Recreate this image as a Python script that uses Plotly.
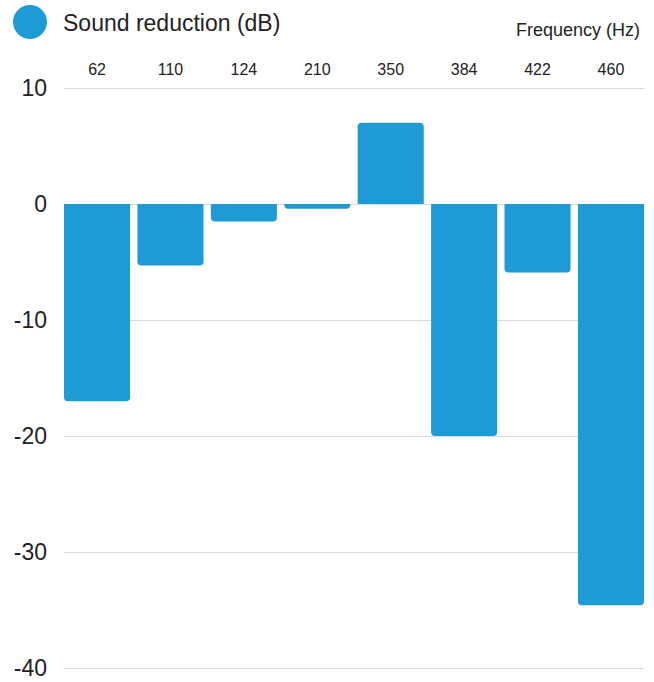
import plotly.graph_objects as go

# Sound reduction measured at each frequency band
frequencies = ["62", "110", "124", "210", "350", "384", "422", "460"]
reduction_db = [-17.0, -5.3, -1.5, -0.4, 7.0, -20.0, -5.9, -34.6]

y_ticks = [10, 0, -10, -20, -30, -40]

BAR_COLOR = "#1e9bd4"
FONT = "Liberation Sans, Arial, sans-serif"

# plot area in pixels: 10 dB at y=88, -40 dB at y=668
PX_PER_DB = 11.6
PAD = 4  # keep the outer gridlines inside the plot area
TOP, BOTTOM = 88 - PAD, 668 + PAD
LEFT, RIGHT = 64, 644
H = BOTTOM - TOP
W = RIGHT - LEFT
pad_db = PAD / PX_PER_DB


def px(x, y):
    """Pixel position -> paper coordinates."""
    return (x - LEFT) / W, (BOTTOM - y) / H


fig = go.Figure()
fig.add_trace(go.Bar(
    x=list(range(len(frequencies))),
    y=reduction_db,
    marker=dict(color=BAR_COLOR, line=dict(width=0)),
    name="Sound reduction (dB)",
    showlegend=False,
))

cx0, cy0 = px(13, 39)
cx1, cy1 = px(47, 5)
lx, ly = px(61, 23)
fx, fy = px(642, 30)

fig.update_layout(
    width=654,
    height=682,
    margin=dict(l=LEFT, r=654 - RIGHT, t=TOP, b=682 - BOTTOM, autoexpand=False),
    paper_bgcolor="white",
    plot_bgcolor="white",
    bargap=0.1,
    barcornerradius=4,
    font=dict(family=FONT, color="#222222"),
    xaxis=dict(
        side="top",
        range=[-0.45, len(frequencies) - 0.55],
        tickmode="array",
        tickvals=list(range(len(frequencies))),
        ticktext=frequencies,
        tickfont=dict(size=16, color="#222222"),
        showgrid=False,
        zeroline=False,
        showline=False,
        ticks="",
        ticklabelstandoff=1 + PAD,
        automargin=False,
    ),
    yaxis=dict(
        range=[-40 - pad_db, 10 + pad_db],
        tickmode="array",
        tickvals=y_ticks,
        ticktext=[str(v) for v in y_ticks],
        tickfont=dict(size=23, color="#222222"),
        showgrid=True,
        gridcolor="#dadada",
        gridwidth=1,
        zeroline=False,
        showline=False,
        ticks="",
        ticklabelstandoff=16,
        automargin=False,
    ),
    shapes=[
        # legend swatch
        dict(type="circle", xref="paper", yref="paper",
             x0=cx0, x1=cx1, y0=cy0, y1=cy1,
             fillcolor=BAR_COLOR, line=dict(width=0)),
    ],
    annotations=[
        dict(text="Sound reduction (dB)", xref="paper", yref="paper",
             x=lx, y=ly, xanchor="left", yanchor="middle", showarrow=False,
             font=dict(size=23, color="#222222", family=FONT)),
        dict(text="Frequency (Hz)", xref="paper", yref="paper",
             x=fx, y=fy, xanchor="right", yanchor="middle", showarrow=False,
             font=dict(size=18, color="#222222", family=FONT)),
    ],
)

fig.write_html("out.html")
